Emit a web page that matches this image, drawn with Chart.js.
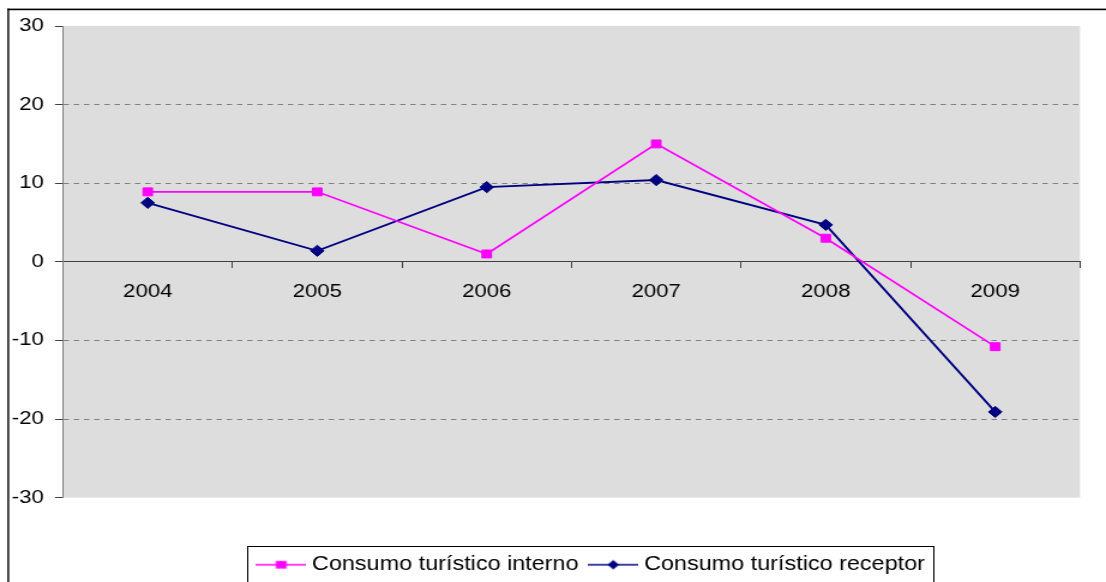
<!DOCTYPE html>
<html>
<head>
<meta charset="utf-8">
<script src="https://cdn.jsdelivr.net/npm/chart.js@4.4.1/dist/chart.umd.min.js"></script>
<style>
  html, body { margin: 0; padding: 0; background: #ffffff; overflow: hidden; }
  #wrap { position: absolute; left: 0; top: 0; width: 922px; height: 582px;
          transform: scaleX(1.19957); transform-origin: 0 0; }
</style>
</head>
<body>
<div id="wrap"><canvas id="c"></canvas></div>
<script>
// ---- data ----
const categories = ['2004', '2005', '2006', '2007', '2008', '2009'];
const internoValues = [8.9, 8.9, 1.0, 15.0, 3.0, -10.8];
const receptorValues = [7.5, 1.4, 9.5, 10.4, 4.7, -19.1];
const seriesNames = ['Consumo turístico interno', 'Consumo turístico receptor'];
const yMin = -30, yMax = 30, yStep = 10;
const dashedGridValues = [20, 10, -10, -20];

const PINK = '#FF00FF';
const NAVY = '#000080';
const FONT = "'Liberation Sans', Arial, sans-serif";

function makeSample(color, shape) {
  const cv = document.createElement('canvas');
  cv.width = 42; cv.height = 14;
  const g = cv.getContext('2d');
  g.strokeStyle = color; g.lineWidth = 1.6;
  g.beginPath(); g.moveTo(0, 7); g.lineTo(42, 7); g.stroke();
  g.fillStyle = color;
  if (shape === 'square') {
    g.fillRect(21 - 4.5, 7 - 3.8, 9, 7.6);
  } else {
    g.beginPath(); g.moveTo(21, 2.2); g.lineTo(25.8, 7); g.lineTo(21, 11.8); g.lineTo(16.2, 7); g.closePath(); g.fill();
  }
  return cv;
}
const samples = [makeSample(PINK, 'square'), makeSample(NAVY, 'diamond')];

const LEGEND_X1 = 218.45, LEGEND_PAD = 13, LEGEND_TOP = 541.95;

const decor = {
  id: 'decor',
  afterLayout(chart) {
    const lg = chart.legend;
    if (!lg) return;
    const h = lg.height;
    lg.left = LEGEND_X1 - LEGEND_PAD;
    lg.right = lg.left + 900;
    lg.top = LEGEND_TOP;
    lg.bottom = LEGEND_TOP + h;
  },
  beforeDraw(chart) {
    const {ctx, chartArea: a} = chart;
    ctx.save();
    ctx.fillStyle = '#ffffff';
    ctx.fillRect(0, 0, chart.width, chart.height);
    ctx.fillStyle = '#000000';
    ctx.fillRect(6.2, 8.6, 2000, 1.6);
    ctx.fillRect(6.2, 8.6, 1.4, 2000);
    ctx.fillStyle = '#DDDDDD';
    ctx.fillRect(a.left, a.top, a.right - a.left, a.bottom - a.top);
    ctx.restore();
  },
  afterDraw(chart) {
    const lg = chart.legend;
    if (!lg || !lg.legendHitBoxes || lg.legendHitBoxes.length < 2) return;
    const hb = lg.legendHitBoxes;
    const left = hb[0].left - 12.65;
    const right = hb[1].left + hb[1].width + 6.8;
    const ctx = chart.ctx;
    ctx.save();
    ctx.strokeStyle = '#000000';
    ctx.lineWidth = 1;
    ctx.strokeRect(Math.round(left) + 0.5, 546.5, Math.round(right - left), 60);
    ctx.restore();
  }
};

new Chart(document.getElementById('c'), {
  type: 'line',
  data: {
    labels: categories,
    datasets: [
      {
        label: seriesNames[0], data: internoValues,
        borderColor: PINK, backgroundColor: PINK, borderWidth: 1.7,
        pointStyle: 'rect', pointRadius: 5.6, pointBorderWidth: 1,
        pointBackgroundColor: PINK, pointBorderColor: PINK,
        tension: 0, fill: false
      },
      {
        label: seriesNames[1], data: receptorValues,
        borderColor: NAVY, backgroundColor: NAVY, borderWidth: 1.9,
        pointStyle: 'rectRot', pointRadius: 5.6, pointBorderWidth: 1,
        pointBackgroundColor: NAVY, pointBorderColor: NAVY,
        tension: 0, fill: false
      }
    ]
  },
  options: {
    responsive: true,
    maintainAspectRatio: false,
    animation: false,
    layout: { padding: { left: 0, top: 26, right: 21.7, bottom: 41.9 } },
    scales: {
      x: {
        type: 'category',
        position: { y: 0 },
        offset: true,
        grid: {
          offset: true, drawOnChartArea: false, color: 'transparent',
          tickLength: 6, tickColor: '#404040', tickWidth: 1
        },
        border: { display: true, color: '#404040', width: 1 },
        ticks: { color: '#000000', font: { family: FONT, size: 18.5 }, padding: 13, maxRotation: 0, autoSkip: false }
      },
      y: {
        min: yMin, max: yMax,
        afterFit(scale) { scale.width = 52.52; },
        ticks: { stepSize: yStep, color: '#000000', font: { family: FONT, size: 18.5 }, padding: 9.3 },
        grid: {
          color: (c) => dashedGridValues.includes(c.tick && c.tick.value) ? '#808080' : 'transparent',
          lineWidth: 1,
          tickLength: 6.7, tickColor: '#404040', tickWidth: 1, tickBorderDash: []
        },
        border: { display: true, color: '#808080', width: 1, dash: [4.5, 4] }
      }
    },
    plugins: {
      title: { display: false },
      tooltip: { enabled: false },
      legend: {
        position: 'bottom',
        align: 'start',
        labels: {
          usePointStyle: true,
          pointStyleWidth: 31.9,
          padding: LEGEND_PAD,
          color: '#000000',
          font: { family: FONT, size: 19.5 },
          generateLabels(chart) {
            return chart.data.datasets.map((ds, i) => ({
              text: ds.label,
              pointStyle: samples[i],
              fillStyle: ds.borderColor,
              strokeStyle: ds.borderColor,
              lineWidth: 0,
              hidden: false,
              datasetIndex: i,
              fontColor: '#000000'
            }));
          }
        }
      }
    }
  },
  plugins: [decor]
});
</script>
</body>
</html>
